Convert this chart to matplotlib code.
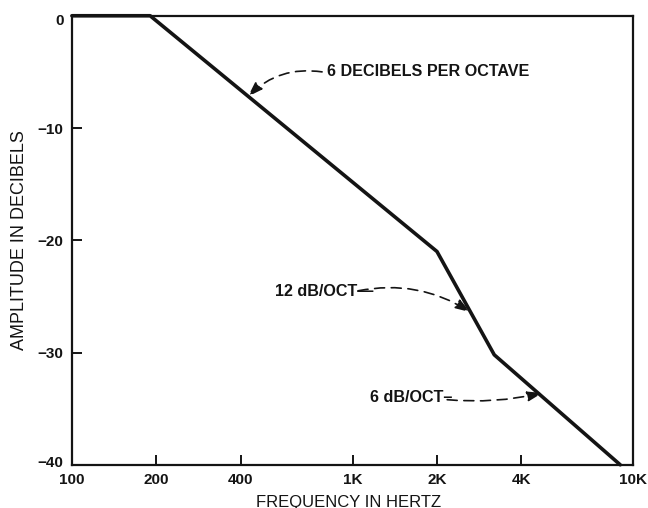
import matplotlib
matplotlib.use("Agg")
import matplotlib.pyplot as plt
from matplotlib.ticker import FixedLocator, FixedFormatter, NullLocator
from matplotlib.transforms import ScaledTranslation

# Asymptotic response: corner frequencies (Hz) and amplitude (dB)
freq_hz = [100, 190, 2000, 3200, 9000]
amp_db = [0, 0, -21, -30.2, -40]

x_ticks = [100, 200, 400, 1000, 2000, 4000, 10000]
x_tick_labels = ["100", "200", "400", "1K", "2K", "4K", "10K"]
y_ticks = [0, -10, -20, -30, -40]
y_tick_labels = ["0", "\u221210", "\u221220", "\u221230", "\u221240"]

# Slope annotations: text, text anchor, arrow start, arrow tip (Hz, dB), curvature
notes = [
    ("6 DECIBELS PER OCTAVE", (812, -5.0), (779, -5.0), (424, -7.2), 0.25),
    ("12 dB/OCT\u2014", (530, -24.6), (1047, -24.5), (2628, -26.4), -0.2),
    ("6 dB/OCT\u2013", (1156, -34.0), (2175, -34.2), (4746, -33.6), 0.08),
]

plt.rcParams["font.family"] = ["Liberation Sans", "DejaVu Sans"]
ink = "#141414"

fig = plt.figure(figsize=(6.48, 5.08), dpi=100)
ax = fig.add_axes([0.111, 0.085, 0.866, 0.884])
ax.set_xscale("log")
ax.set_xlim(100, 10000)
ax.set_ylim(-40, 0)

ax.plot(freq_hz, amp_db, color=ink, lw=2.6, solid_joinstyle="round",
        solid_capstyle="round", clip_on=False, zorder=3)

for s in ax.spines.values():
    s.set_linewidth(1.6)
    s.set_color(ink)

ax.xaxis.set_major_locator(FixedLocator(x_ticks))
ax.xaxis.set_major_formatter(FixedFormatter(x_tick_labels))
ax.xaxis.set_minor_locator(NullLocator())
ax.yaxis.set_major_locator(FixedLocator(y_ticks))
ax.yaxis.set_major_formatter(FixedFormatter(y_tick_labels))
ax.tick_params(axis="both", direction="in", length=7, width=1.4, color=ink,
               labelsize=11, labelcolor=ink)
ax.tick_params(axis="x", pad=6)
ax.tick_params(axis="y", pad=6)
for lab in ax.get_xticklabels() + ax.get_yticklabels():
    lab.set_fontweight("bold")

# nudge the corner labels off the axis intersection
ylabs = ax.get_yticklabels()
ylabs[0].set_transform(ylabs[0].get_transform()
                       + ScaledTranslation(0, -4 / 100, fig.dpi_scale_trans))
ylabs[-1].set_transform(ylabs[-1].get_transform()
                        + ScaledTranslation(0, 3 / 100, fig.dpi_scale_trans))

fig.text(349 / 648, 1 - 502 / 508, "FREQUENCY IN HERTZ", fontsize=12,
         color=ink, ha="center", va="center")
fig.text(20 / 648, 1 - 240 / 508, "AMPLITUDE IN DECIBELS", fontsize=13,
         color=ink, ha="center", va="center", rotation=90)

for label, txt_xy, start_xy, tip_xy, rad in notes:
    ax.text(*txt_xy, label, fontsize=11.6, fontweight="bold", color=ink,
            ha="left", va="center")
    ax.annotate("", xy=tip_xy, xytext=start_xy,
                arrowprops=dict(arrowstyle="-|>,head_length=0.9,head_width=0.3",
                                linestyle=(0, (6, 4)), lw=1.2, color=ink,
                                connectionstyle=f"arc3,rad={rad}",
                                shrinkA=0, shrinkB=0))

fig.savefig("out.png", dpi=100)
